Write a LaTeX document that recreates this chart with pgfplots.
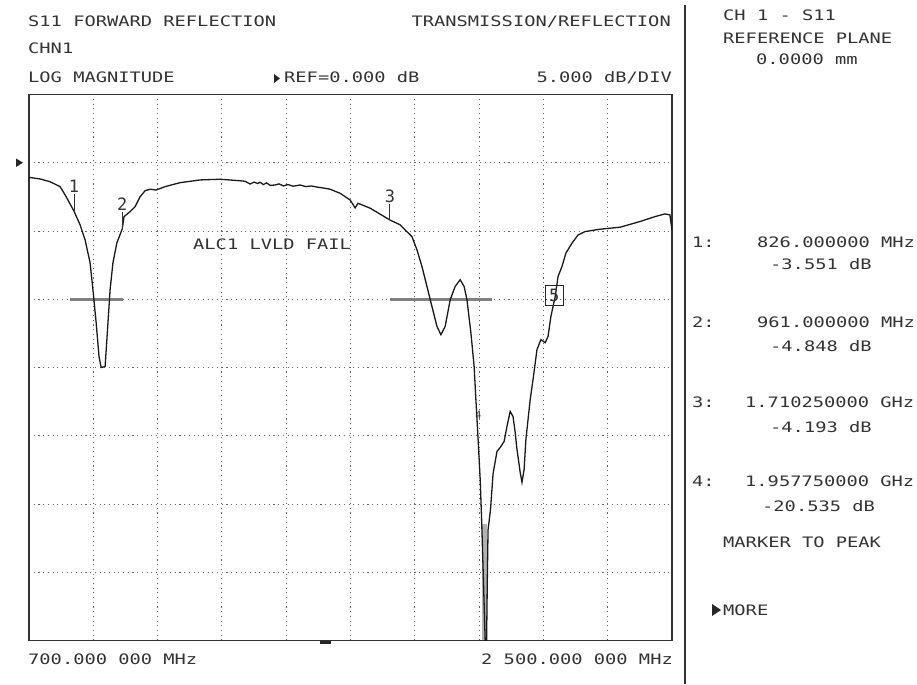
\documentclass[border=0pt]{standalone}
\usepackage{pgfplots}
\pgfplotsset{compat=1.18}
\usepackage{pgfplotstable}
\usepackage{fontspec}
% analyser screen font: wide monospaced capitals
\newfontfamily\hp{DejaVu Sans Mono}[FakeStretch=1.3]
\newfontfamily\hpm{DejaVu Sans Mono}
\newcommand\scr{\hp\fontsize{14.4bp}{16bp}\selectfont}
\newcommand\mk{\hpm\fontsize{17bp}{18bp}\selectfont}
\newcommand\mks{\hpm\fontsize{10bp}{11bp}\selectfont}

% S11 log magnitude trace: frequency (MHz), level (dB)
\pgfplotstableread{
f      db
700    -1.07
731    -1.19
759    -1.39
787    -1.75
804    -2.49
826    -3.551
843    -4.55
857    -5.65
871    -7.33
879    -9.31
888    -11.72
896    -14.20
902    -15.00
913    -14.93
918    -12.96
927    -9.31
935    -7.33
946    -5.87
961    -4.848
966    -3.95
983    -3.58
997    -3.22
1011   -2.49
1025   -2.05
1039   -1.94
1056   -2.00
1081   -1.75
1123   -1.46
1179   -1.26
1235   -1.21
1291   -1.32
1305   -1.36
1319   -1.56
1330   -1.42
1340   -1.52
1347   -1.43
1356   -1.60
1365   -1.48
1375   -1.66
1389   -1.63
1400   -1.55
1412   -1.70
1425   -1.60
1440   -1.72
1459   -1.63
1475   -1.75
1490   -1.70
1510   -1.80
1529   -1.87
1543   -1.94
1571   -2.24
1599   -2.73
1613   -3.31
1621   -2.97
1655   -3.33
1710.25 -4.193
1739   -4.55
1753   -4.92
1772   -5.41
1786   -6.38
1800   -7.60
1814   -9.06
1828   -10.53
1842   -11.99
1853   -12.60
1865   -11.99
1879   -10.04
1893   -9.06
1907   -8.57
1918   -9.06
1926   -10.04
1937   -12.45
1946   -14.91
1951   -17.35
1957.75 -20.535
1963   -23.19
1967   -26.12
1972   -30.50
1977   -35.00
1981   -35.00
1983   -30.50
1985   -26.90
1992   -25.39
1999   -22.80
2010   -21.15
2019   -20.86
2030   -20.42
2038   -19.32
2047   -18.22
2055   -18.59
2061   -19.76
2066   -21.00
2075   -22.68
2080   -23.41
2086   -22.46
2091   -20.27
2097   -18.81
2103   -17.35
2111   -15.88
2122   -13.69
2133   -12.96
2145   -13.18
2153   -12.72
2161   -11.26
2173   -9.80
2181   -8.33
2192   -7.60
2203   -6.62
2220   -5.89
2237   -5.29
2257   -5.04
2299   -4.87
2355   -4.72
2410   -4.31
2452   -3.95
2480   -3.75
2494   -3.82
2500   -4.92
}\trace

\begin{document}
\begin{tikzpicture}[x=1bp,y=1bp,every node/.style={inner sep=0pt,text=black!80}]
\path (0,0) rectangle (917,684);
\begin{axis}[
  at={(29bp,43.5bp)}, anchor=south west,
  scale only axis, width=643bp, height=546bp,
  xmin=700, xmax=2500, ymin=-35, ymax=5,
  xtick={700,880,1060,1240,1420,1600,1780,1960,2140,2320,2500},
  ytick={-35,-30,-25,-20,-15,-10,-5,0,5},
  xticklabels={}, yticklabels={},
  major tick length=0pt,
  grid=major,
  major grid style={black!60, line width=0.9bp, dash pattern=on 1.1bp off 3.6bp},
  axis line style={black!80, line width=1.6bp},
  clip=true,
]
% unresolved sweep points near the deepest null
\addplot[fill=black!30, draw=none] coordinates {(1968,-26.5) (1983,-26.5) (1983,-35) (1968,-35)} -- cycle;
% -10 dB bandwidth bars
\addplot[black!50, line width=2.6bp] coordinates {(815,-10) (962,-10)};
\addplot[black!50, line width=2.6bp] coordinates {(1711,-10) (1997,-10)};
% trace
\addplot[black!90, line width=1.3bp] table[x=f, y=db] {\trace};
% markers
\draw[black!80, line width=0.9bp] (axis cs:826,-3.551) -- ([yshift=17bp]axis cs:826,-3.551) node[anchor=south, font=\mk, yshift=1bp] {1};
\draw[black!80, line width=0.9bp] (axis cs:961,-4.848) -- ([yshift=17bp]axis cs:961,-4.848) node[anchor=south, font=\mk, yshift=1bp] {2};
\draw[black!80, line width=0.9bp] (axis cs:1710.25,-4.193) -- ([yshift=16bp]axis cs:1710.25,-4.193) node[anchor=south, font=\mk, yshift=1bp] {3};
\node[font=\mks, anchor=south] at ([yshift=24bp]axis cs:1957.75,-20.535) {4};
\node[draw=black!85, line width=1bp, minimum width=18bp, minimum height=20bp, font=\mk] at (axis cs:2170,-9.75) {5};
\end{axis}

% reference level pointer and bottom stub
\fill[black!85] (16,525.5) -- (23,521.3) -- (16,517) -- cycle;
\draw[black!85, line width=2.5bp] (320,41.5) -- (331,41.5);

% header
\begin{scope}[every node/.append style={font=\scr}]
\node[anchor=base west] at (28,657) {S11 FORWARD REFLECTION};
\node[anchor=base east] at (671,657) {TRANSMISSION/REFLECTION};
\node[anchor=base west] at (28,630) {CHN1};
\node[anchor=base west] at (28,601) {LOG MAGNITUDE};
\node[anchor=base west] at (284,601) {REF=0.000 dB};
\node[anchor=base east] at (672,601) {5.000 dB/DIV};
\node[anchor=base west] at (193,434) {ALC1 LVLD FAIL};
\node[anchor=base west] at (28,19) {700.000 000 MHz};
\node[anchor=base east] at (673,19) {2 500.000 000 MHz};
% side panel
\node[anchor=base west] at (723,663) {CH 1 - S11};
\node[anchor=base west] at (723,640) {REFERENCE PLANE};
\node[anchor=base west] at (756,619) {0.0000 mm};
\node[anchor=base west] at (692,436) {1:};
\node[anchor=base west] at (757,436) {826.000000 MHz};
\node[anchor=base west] at (770,414) {-3.551 dB};
\node[anchor=base west] at (692,356) {2:};
\node[anchor=base west] at (757,356) {961.000000 MHz};
\node[anchor=base west] at (770,332) {-4.848 dB};
\node[anchor=base west] at (692,276) {3:};
\node[anchor=base west] at (745,276) {1.710250000 GHz};
\node[anchor=base west] at (770,251) {-4.193 dB};
\node[anchor=base west] at (692,197) {4:};
\node[anchor=base west] at (745,197) {1.957750000 GHz};
\node[anchor=base west] at (762,172) {-20.535 dB};
\node[anchor=base west] at (723,136) {MARKER TO PEAK};
\node[anchor=base west] at (723,68) {MORE};
\end{scope}
\fill[black!85] (274,610) -- (280,605.5) -- (274,601) -- cycle;
\fill[black!85] (712,80) -- (721,74) -- (712,68) -- cycle;
\draw[black!80, line width=2bp] (685,0) -- (685,679);
\end{tikzpicture}
\end{document}
